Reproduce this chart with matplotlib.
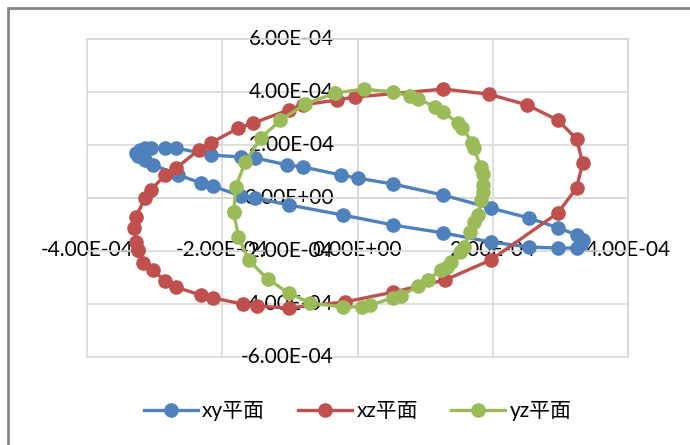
import numpy as np
import matplotlib.pyplot as plt
from matplotlib.patches import Rectangle

plt.rcParams['font.family'] = ['Lato', 'Noto Sans CJK SC', 'DejaVu Sans']

# xy平面 (单位 1e-4)
xy_x = [-3.28, -3.21, -3.14, -3.06, -2.84, -2.69, -2.17, -1.73, -1.51, -1.04,
        -0.80, -0.25, 0.00, 0.52, 1.27, 1.97, 2.53, 2.97, 3.25, 3.33,
        3.30, 3.25, 2.97, 2.53, 1.97, 1.27, 0.53, -0.22, -1.02, -1.51,
        -1.73, -2.14, -2.32, -2.65, -3.02, -3.14, -3.24]
xy_y = [1.70, 1.81, 1.89, 1.89, 1.89, 1.89, 1.62, 1.55, 1.51, 1.25,
        1.17, 0.87, 0.75, 0.53, 0.11, -0.38, -0.75, -1.13, -1.40, -1.58,
        -1.74, -1.89, -1.89, -1.85, -1.66, -1.32, -1.02, -0.64, -0.26, 0.00,
        0.08, 0.45, 0.57, 0.87, 1.25, 1.43, 1.58]

# xz平面
xz_x = [-3.25, -3.28, -3.30, -3.28, -3.14, -3.06, -2.84, -2.68, -2.35, -2.17,
        -1.76, -1.54, -1.02, -0.81, -0.30, -0.03, 1.27, 1.94, 2.51, 2.96,
        3.24, 3.33, 3.24, 2.96, 1.97, 1.30, 0.53, -0.18, -1.02, -1.48,
        -1.70, -2.14, -2.32, -2.69, -2.84, -3.03, -3.17, -3.25]
xz_y = [-1.96, -1.66, -1.13, -0.72, 0.00, 0.30, 0.87, 1.13, 1.81, 2.08,
        2.64, 2.83, 3.32, 3.51, 3.70, 3.81, 4.11, 3.92, 3.51, 2.94,
        2.23, 1.32, 0.38, -0.57, -2.34, -3.09, -3.55, -3.92, -4.15, -4.08,
        -4.00, -3.77, -3.66, -3.36, -3.13, -2.72, -2.45, -1.96]

# yz平面
yz_x = [-1.83, -1.80, -1.66, -1.43, -1.14, -0.77, -0.33, 0.09, 0.52, 0.78,
        0.90, 1.15, 1.27, 1.48, 1.55, 1.70, 1.72, 1.82, 1.85, 1.86,
        1.85, 1.83, 1.78, 1.73, 1.66, 1.57, 1.52, 1.38, 1.32, 1.23,
        1.04, 0.90, 0.64, 0.52, 0.19, 0.07, -0.22, -0.70, -1.02, -1.33,
        -1.61, -1.76, -1.83]
yz_y = [-0.53, 0.42, 1.36, 2.26, 2.94, 3.55, 3.96, 4.11, 4.00, 3.85,
        3.74, 3.43, 3.25, 2.83, 2.64, 2.08, 1.89, 1.17, 0.91, 0.49,
        0.23, -0.08, -0.64, -0.91, -1.28, -1.85, -2.04, -2.42, -2.60, -2.72,
        -3.09, -3.32, -3.70, -3.77, -4.04, -4.11, -4.11, -3.96, -3.58, -3.06,
        -2.34, -1.47, -0.53]

series = [('xy平面', xy_x, xy_y, '#4F81BD'),
          ('xz平面', xz_x, xz_y, '#C0504D'),
          ('yz平面', yz_x, yz_y, '#9BBB59')]

xticks = np.arange(-4, 5, 2) * 1e-4
yticks = np.arange(-6, 7, 2) * 1e-4
grid_c = '#D9D9D9'

fig = plt.figure(figsize=(6.9, 4.45), dpi=100)
ax = fig.add_axes([87/690, 1-357/445, (628-87)/690, (357-39)/445])

for name, xs, ys, c in series:
    ax.plot(np.array(xs)*1e-4, np.array(ys)*1e-4, '-o', color=c, lw=2.4,
            markersize=9.5, label=name, zorder=3)

ax.set_xlim(-4e-4, 4e-4)
ax.set_ylim(-6e-4, 6e-4)
ax.set_xticks(xticks)
ax.set_yticks(yticks)
ax.set_xticklabels(['%.2E' % v for v in xticks])
ax.set_yticklabels(['%.2E' % v for v in yticks])

# axes cross at the origin, like the spreadsheet chart
ax.spines['left'].set_position(('data', 0))
ax.spines['bottom'].set_position(('data', 0))
for s in ax.spines.values():
    s.set_color(grid_c)
    s.set_linewidth(1.2)
ax.tick_params(axis='both', length=0, labelsize=15)
ax.tick_params(axis='x', pad=30)
ax.tick_params(axis='y', pad=17)
for lab in ax.get_yticklabels():
    lab.set_verticalalignment('center')

ax.grid(True, color=grid_c, lw=1.2, zorder=0)
for ln in ax.get_xgridlines() + ax.get_ygridlines():
    ln.set_clip_on(False)
ax.set_axisbelow(True)

ax.legend(loc='upper center', bbox_to_anchor=(0.5, -0.08), ncol=3,
          frameon=False, fontsize=15, handlelength=2.6, columnspacing=1.6,
          handletextpad=0.2)

# chart area border
fig.add_artist(Rectangle((8/690, -0.5), 2, 0.5 + 1 - 8/445,
                         transform=fig.transFigure, fill=False,
                         edgecolor='#868686', lw=2))

fig.savefig('out.png', dpi=100)
